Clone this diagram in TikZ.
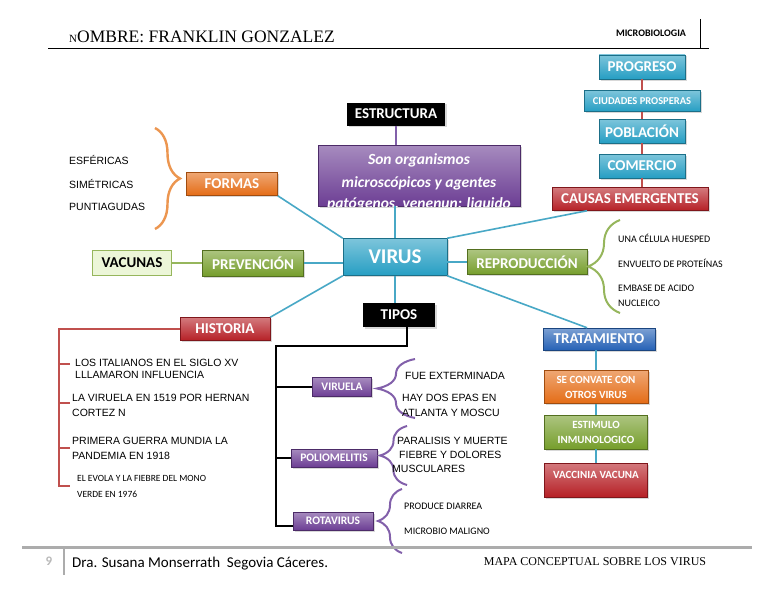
\documentclass[tikz,border=0pt]{standalone}
\usepackage{fontspec}
\usepackage{tikz}
\usetikzlibrary{positioning,shadows,decorations.pathreplacing}
\newfontfamily\cali{Carlito}
\newfontfamily\arialf{Liberation Sans}
\newfontfamily\timesf{Liberation Serif}
\definecolor{cielo}{RGB}{38,158,195}
\definecolor{morado}{RGB}{108,62,148}
\definecolor{naranja}{RGB}{228,108,22}
\definecolor{verde}{RGB}{118,158,44}
\definecolor{rojo}{RGB}{182,32,38}
\definecolor{azul}{RGB}{38,98,182}
\definecolor{enlace}{RGB}{72,168,198}
\definecolor{lineared}{RGB}{192,80,77}
\definecolor{verdeclaro}{RGB}{236,246,216}
\definecolor{llave}{RGB}{236,150,80}
\definecolor{llavemorada}{RGB}{130,96,170}
\definecolor{llaveverde}{RGB}{150,182,92}

\begin{document}
\begin{tikzpicture}[x=1pt,y=-1pt,
  box/.style={draw=#1!70!black, line width=0.5pt, top color=#1!60!white, bottom color=#1,
    text=white, align=center, inner sep=1pt,
    drop shadow={opacity=0.3,shadow xshift=1.5pt,shadow yshift=-1.5pt}},
  blackbox/.style={fill=black, text=white, inner sep=1pt,
    drop shadow={opacity=0.3,shadow xshift=1.5pt,shadow yshift=-1.5pt}},
  bigtxt/.style={font=\cali\bfseries\fontsize{15}{17}\selectfont},
  smalltxt/.style={font=\cali\bfseries\fontsize{11.5}{15}\selectfont},
  listtxt/.style={font=\arialf\fontsize{10.5}{15}\selectfont, anchor=west, inner sep=0pt, align=left},
  listcal/.style={font=\cali\fontsize{10}{16}\selectfont, anchor=west, inner sep=0pt, align=left},
  link/.style={draw=enlace, line width=1.6pt},
  redline/.style={draw=lineared, line width=1.6pt},
  curly/.style={decorate, decoration={brace, amplitude=#1}, line width=2pt},
]
  \fill[white] (0,0) rectangle (768,594);
  \useasboundingbox (0,0) rectangle (768,594);

  % encabezado
  \node[font=\timesf\fontsize{17.5}{20}\selectfont, anchor=base west, inner sep=0pt] (nombre) at (69,43)
    {{\fontsize{11}{12}\selectfont N}OMBRE: FRANKLIN GONZALEZ};
  \node[font=\cali\bfseries\fontsize{10}{12}\selectfont] (materia) at (651,33) {MICROBIOLOGIA};
  \draw[line width=1pt] (48,49) -- (709,49);
  \draw[line width=1pt] (700,19) -- (700,49);

  % centro
  \node[box=cielo, minimum width=104, minimum height=37, font=\cali\bfseries\fontsize{21}{24}\selectfont] (virus) at (395,257) {VIRUS};
  \node[blackbox, minimum width=98, minimum height=23, bigtxt] (estr) at (396,114) {ESTRUCTURA};
  \node[box=morado, minimum width=202, minimum height=61] (def) at (419,175.5) {};
  \begin{scope}
    \clip (def.south west) rectangle (def.north east);
    \tikzset{deftxt/.style={font=\cali\bfseries\itshape\fontsize{15.5}{18}\selectfont, text=white, anchor=base, inner sep=0pt}}
    \node[deftxt] (def1) at (419,164) {Son organismos};
    \node[deftxt] (def2) at (419,187) {microscópicos y agentes};
    \node[deftxt] (def3) at (419,208) {patógenos, venenun: liquido};
  \end{scope}
  \node[blackbox, minimum width=72, minimum height=24, bigtxt] (tipos) at (399,315) {TIPOS};

  % izquierda
  \node[box=naranja, minimum width=91, minimum height=23, bigtxt] (formas) at (232,184) {FORMAS};
  \node[listtxt] (esfericas) at (69,160) {ESFÉRICAS};
  \node[listtxt] (simetricas) at (69,184) {SIMÉTRICAS};
  \node[listtxt] (puntiagudas) at (69,207) {PUNTIAGUDAS};
  \draw[curly=25pt, llave, line width=2.4pt] (155,128) -- (155,229);

  \node[box=verde, minimum width=101, minimum height=26, bigtxt] (prevencion) at (253,263) {PREVENCIÓN};
  \node[draw=llaveverde, line width=1pt, fill=verdeclaro, minimum width=79, minimum height=25, bigtxt] (vacunas) at (132,263) {VACUNAS};
  \node[box=rojo, minimum width=90, minimum height=23, bigtxt] (historia) at (225,329) {HISTORIA};

  % historia
  \node[listtxt, font=\arialf\fontsize{10.5}{12.5}\selectfont] (hist1) at (75,369) {LOS ITALIANOS EN EL SIGLO XV\\LLLAMARON INFLUENCIA};
  \node[listtxt] (hist2) at (72,405) {LA VIRUELA EN 1519 POR HERNAN\\CORTEZ N};
  \node[listtxt] (hist3) at (72,448) {PRIMERA GUERRA MUNDIA LA\\PANDEMIA EN 1918};
  \node[listcal, font=\cali\fontsize{9.5}{16}\selectfont] (hist4) at (77,486) {EL EVOLA Y LA FIEBRE DEL MONO\\VERDE EN 1976};
  \coordinate (hbot) at (59,487);
  \draw[redline] (historia.west) -| (hbot);
  \foreach \y in {364,403,448,486}
    \draw[redline] (59,\y) -- ++(11,0);

  % tipos
  \node[box=morado, minimum width=59, minimum height=19, smalltxt] (viruela) at (342,387) {VIRUELA};
  \node[box=morado, minimum width=86, minimum height=18, smalltxt] (polio) at (334,458) {POLIOMELITIS};
  \node[box=morado, minimum width=80, minimum height=18, smalltxt] (rotavirus) at (333,521) {ROTAVIRUS};
  \coordinate (tcorner) at (276,346);
  \coordinate (tbot) at (276,526);
  \draw[line width=1.5pt] ([xshift=8pt]tipos.south) |- (tcorner) -- (tbot) -- (tbot -| rotavirus.west);
  \draw[line width=1.5pt] (viruela.west -| tcorner) -- (viruela.west);
  \draw[line width=1.5pt] (polio.west -| tcorner) -- (polio.west);

  \draw[curly=38pt, llavemorada] (415,418) -- (415,359);
  \draw[curly=27pt, llavemorada] (407,485) -- (407,426);
  \draw[curly=24pt, llavemorada] (402,553) -- (402,489);
  \node[listtxt] (v1) at (405,376) {FUE EXTERMINADA};
  \node[listtxt] (v2) at (402,405) {HAY DOS EPAS EN\\ATLANTA Y MOSCU};
  \node[listtxt] (p1) at (397,441) {PARALISIS Y MUERTE};
  \node[listtxt] (p2) at (399,455) {FIEBRE Y DOLORES};
  \node[listtxt] (p3) at (392,469) {MUSCULARES};
  \node[listcal] (r1) at (404,506) {PRODUCE DIARREA};
  \node[listcal] (r2) at (404,531) {MICROBIO MALIGNO};

  % derecha
  \node[box=cielo, minimum width=86, minimum height=24, bigtxt] (progreso) at (642,67) {PROGRESO};
  \node[box=cielo, minimum width=116, minimum height=21, font=\cali\bfseries\fontsize{10.5}{12}\selectfont] (ciudades) at (642,101) {CIUDADES PROSPERAS};
  \node[box=cielo, minimum width=86, minimum height=24, bigtxt] (poblacion) at (642,131) {POBLACIÓN};
  \node[box=cielo, minimum width=86, minimum height=24, bigtxt] (comercio) at (642,166) {COMERCIO};
  \node[box=rojo, minimum width=156, minimum height=23, bigtxt] (causas) at (630,199) {CAUSAS EMERGENTES};
  \draw[redline] (progreso.south) -- (ciudades.north);
  \draw[redline] (ciudades.south) -- (poblacion.north);
  \draw[redline] (poblacion.south) -- (comercio.north);
  \draw[redline] (comercio.south) -- (comercio.south |- causas.north);

  \node[box=verde, minimum width=120, minimum height=25, bigtxt] (repro) at (527,262) {REPRODUCCIÓN};
  \draw[curly=32pt, llaveverde] (620,313) -- (620,220);
  \node[listcal] (e1) at (618,238) {UNA CÉLULA HUESPED};
  \node[listcal] (e2) at (618,263) {ENVUELTO DE PROTEÍNAS};
  \node[listcal, font=\cali\fontsize{10}{15}\selectfont] (e3) at (618,295.5) {EMBASE DE ACIDO\\NUCLEICO};

  \node[box=azul, minimum width=112, minimum height=22, bigtxt] (trat) at (599,339) {TRATAMIENTO};
  \node[box=naranja, minimum width=104, minimum height=33, font=\cali\bfseries\fontsize{11}{15}\selectfont] (conv) at (596,387) {SE CONVATE CON\\OTROS VIRUS};
  \node[box=verde, minimum width=103, minimum height=34, font=\cali\bfseries\fontsize{11}{15}\selectfont] (estim) at (596,432) {ESTIMULO\\INMUNOLOGICO};
  \node[box=rojo, minimum width=103, minimum height=34, text depth=10pt, font=\cali\bfseries\fontsize{11}{15}\selectfont] (vacc) at (596,480) {VACCINIA VACUNA};
  \draw[link] (trat.south -| conv.north) -- (conv.north);
  \draw[link] (conv.south) -- (estim.north);
  \draw[link] (estim.south) -- (vacc.north);

  % enlaces del virus
  \draw[line width=1.6pt, llavemorada] (estr.south) -- (estr.south |- def.north);
  \draw[link] (def.south -| virus.north) -- (virus.north);
  \draw[link] (formas.south east) -- (virus.north west);
  \draw[link] (prevencion.east) -- (prevencion.east -| virus.west);
  \draw[line width=1.6pt, llaveverde] (vacunas.east) -- (prevencion.west);
  \draw[link] (historia.north east) -- (virus.south west);
  \draw[link] (virus.south) -- (virus.south |- tipos.north);
  \draw[link] (repro.west -| virus.east) -- (repro.west);
  \draw[link] (virus.north east) -- ([xshift=-43pt]causas.south);
  \draw[link] (virus.south east) -- ([xshift=-12pt]trat.north);

  % pie
  \draw[line width=3pt, gray!65] (22,547) -- (752,547);
  \draw[line width=2.5pt, gray!65] (64,547) -- (64,575);
  \node[font=\cali\bfseries\fontsize{13}{14}\selectfont, text=gray!55] (pagina) at (49,561) {9};
  \node[font=\cali\fontsize{15}{17}\selectfont, anchor=west, inner sep=0pt] (autora) at (72,564) {Dra. Susana Monserrath\ \ Segovia Cáceres.};
  \node[font=\timesf\fontsize{12}{14}\selectfont] (titulo) at (595,562) {MAPA CONCEPTUAL SOBRE LOS VIRUS};
\end{tikzpicture}
\end{document}
